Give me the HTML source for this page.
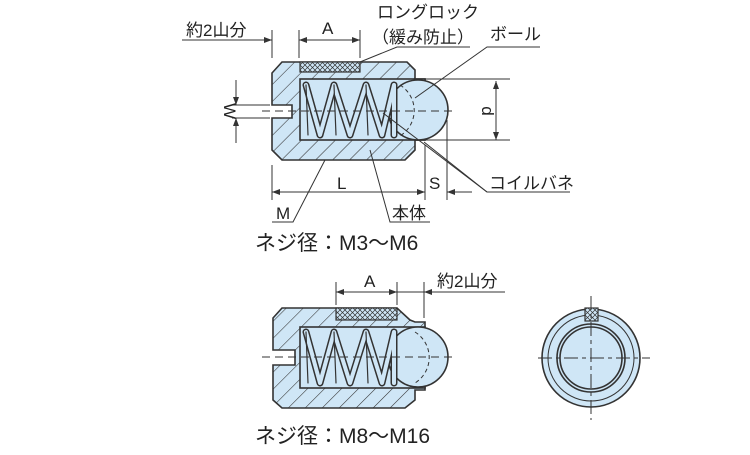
<!DOCTYPE html>
<html><head><meta charset="utf-8"><style>
body{margin:0;background:#fff}
text{font-family:"Liberation Sans","Noto Sans CJK JP",sans-serif;fill:#222}
</style></head><body>
<svg width="750" height="450" viewBox="0 0 750 450" xmlns="http://www.w3.org/2000/svg">
<defs>
<pattern id="h" patternUnits="userSpaceOnUse" width="12" height="12" patternTransform="rotate(45)">
<rect width="12" height="12" fill="#cfe6f6"/><line x1="0" y1="0" x2="0" y2="12" stroke="#333" stroke-width="1.1"/></pattern>
<pattern id="x" patternUnits="userSpaceOnUse" width="5" height="5">
<rect width="5" height="5" fill="#cfe6f6"/><path d="M0 0L5 5M5 0L0 5" stroke="#333" stroke-width="0.7"/></pattern>
<marker id="a" markerWidth="8" markerHeight="6" refX="8" refY="3" orient="auto-start-reverse" markerUnits="userSpaceOnUse"><path d="M0 0L8 3L0 6Z" fill="#333"/></marker>
</defs>
<g stroke="#333" fill="none" stroke-width="1">
<!-- TOP DRAWING -->
<path d="M282 62L407 62L415 70L415 79L425 79L425 140L415 140L415 150L405 160L282 160L272 150L272 118L292 118L292 105L272 105L272 73Z" fill="url(#h)" stroke-width="1.6"/>
<rect x="300" y="79" width="125" height="61" fill="#cfe6f6" stroke-width="1.6"/>
<rect x="300" y="62" width="60" height="10" fill="url(#x)" stroke-width="1.2"/>
<circle cx="418" cy="110" r="30" fill="#cfe6f6" stroke-width="1.6"/>
<g stroke-linejoin="round" stroke-linecap="round">
<path d="M306 85L320 135L334 85L350 135L366 85L382 135L394 85L394 135" stroke="#333" stroke-width="7"/>
<path d="M306 85L320 135L334 85L350 135L366 85L382 135L394 85L394 135" stroke="#cfe6f6" stroke-width="4"/>
<path d="M306 85L308 135M334 85L336 135M366 85L368 135" stroke="#333" stroke-width="1.2"/>
</g>
<path d="M262 111H455" stroke-dasharray="8,5"/>
<path d="M400 85A30 30 0 0 1 400 136" stroke-dasharray="4,3"/>
<!-- dims -->
<path d="M272 30V58M299 30V58M360 30V58"/>
<path d="M182 40H272" marker-end="url(#a)"/>
<path d="M299 40H360" marker-start="url(#a)" marker-end="url(#a)"/>
<path d="M360 62L397 47H470"/>
<path d="M415 98L487 47H540"/>
<path d="M425 79H510M425 140H510"/>
<path d="M496 81V140" marker-start="url(#a)" marker-end="url(#a)"/>
<path d="M232 105H270M232 118H270"/>
<path d="M236 80V105" marker-end="url(#a)"/><path d="M236 143V118" marker-end="url(#a)"/>
<path d="M272 165V200M425 145V200M447 120V200"/>
<path d="M272 192H425" marker-start="url(#a)" marker-end="url(#a)"/>
<path d="M472 192H447" marker-end="url(#a)"/>
<path d="M383 113L487 192H570"/>
<path d="M424 142L487 192"/>
<path d="M325 160L293 222H272"/>
<path d="M370 150L390 222H430"/>
<!-- BOTTOM DRAWING -->
<path d="M282 308L397 308L410 320L415 322L425 322L425 390L415 390L415 400L405 408L282 408L273 400L273 365L295 365L295 350L273 350L273 318Z" fill="url(#h)" stroke-width="1.6"/>
<rect x="300" y="327" width="125" height="61" fill="#cfe6f6" stroke-width="1.6"/>
<rect x="336" y="308" width="61" height="12" fill="url(#x)" stroke-width="1.2"/>
<circle cx="418" cy="357" r="30" fill="#cfe6f6" stroke-width="1.6"/>
<g stroke-linejoin="round" stroke-linecap="round">
<path d="M306 332L320 383L334 332L350 383L366 332L382 383L394 332L394 383" stroke="#333" stroke-width="7"/>
<path d="M306 332L320 383L334 332L350 383L366 332L382 383L394 332L394 383" stroke="#cfe6f6" stroke-width="4"/>
<path d="M306 332L308 383M334 332L336 383M366 332L368 383" stroke="#333" stroke-width="1.2"/>
</g>
<path d="M262 357H455" stroke-dasharray="8,5"/>
<path d="M415 332A30 30 0 0 1 415 383" stroke-dasharray="4,3"/>
<path d="M336 282V305M397 282V305M424 282V318"/>
<path d="M336 292H397" marker-start="url(#a)" marker-end="url(#a)"/>
<path d="M397 292H424"/>
<path d="M440 292H424" marker-end="url(#a)"/><path d="M440 292H505"/>
<!-- circle view -->
<circle cx="591" cy="358" r="49" fill="#cfe6f6" stroke-width="1.6"/>
<circle cx="591" cy="358" r="43"/>
<circle cx="591" cy="358" r="34" stroke-width="1.6"/>
<circle cx="591" cy="358" r="31" fill="#cfe6f6" stroke-width="1.6"/>
<rect x="585" y="308" width="13" height="13" fill="url(#x)" stroke-width="1.2"/>
<path d="M538 358H650M591 296V420" stroke-dasharray="14,4,4,4"/>
</g>
<g font-size="17">
<text x="186" y="36">約2山分</text>
<text x="322" y="34">A</text>
<text x="377" y="18">ロングロック</text>
<text x="372" y="43">（緩み防止）</text>
<text x="490" y="40">ボール</text>
<text x="489" y="189">コイルバネ</text>
<text x="337" y="189">L</text>
<text x="429" y="189">S</text>
<text x="276" y="219">M</text>
<text x="392" y="219">本体</text>
<text x="364" y="287">A</text>
<text x="437" y="287">約2山分</text>
<text transform="translate(482,111) rotate(90)" text-anchor="middle">d</text>
<text transform="translate(224,111) rotate(90)" text-anchor="middle">W</text>
</g>
<g font-size="21">
<text x="255" y="250">ネジ径：M3～M6</text>
<text x="255" y="443">ネジ径：M8～M16</text>
</g>
</svg>
</body></html>
